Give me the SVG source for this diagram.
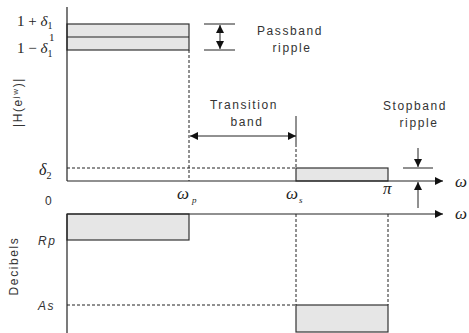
<svg xmlns="http://www.w3.org/2000/svg" width="469" height="333" viewBox="0 0 469 333">
<defs>
<marker id="ah" viewBox="0 0 10 10" refX="10" refY="5" markerWidth="8" markerHeight="8" markerUnits="userSpaceOnUse" orient="auto-start-reverse">
<path d="M0,0 L10,5 L0,10 z" fill="#111"/>
</marker>
<marker id="ah2" viewBox="0 0 10 10" refX="10" refY="5" markerWidth="10" markerHeight="8" markerUnits="userSpaceOnUse" orient="auto-start-reverse">
<path d="M0,0 L10,5 L0,10 z" fill="#111"/>
</marker>
</defs>
<style>
.ax{stroke:#222;stroke-width:1.2;fill:none}
.ln{stroke:#222;stroke-width:1;fill:none}
.ds{stroke:#222;stroke-width:1;fill:none;stroke-dasharray:3,2}
.band{fill:#e6e6e6;stroke:#333;stroke-width:1.2}
.sans{font-family:"Liberation Sans",Arial,sans-serif;fill:#333;font-size:12px;letter-spacing:1.6px}
.ser{font-family:"Liberation Serif","Times New Roman",serif;fill:#222}
.it{font-style:italic}
</style>
<rect width="469" height="333" fill="#fff"/>

<g id="bands">
<rect class="band" x="67" y="24" width="122" height="26"/>
<line class="ln" x1="67" y1="37" x2="189" y2="37"/>
<rect class="band" x="296" y="168" width="92" height="13"/>
<rect class="band" x="67" y="214" width="122" height="26"/>
<rect class="band" x="296" y="305" width="92" height="27"/>
</g>

<g id="axes">
<line class="ax" x1="67" y1="7" x2="67" y2="181"/>
<line class="ax" x1="67" y1="181" x2="443" y2="181" marker-end="url(#ah2)"/>
<line class="ax" x1="67" y1="214" x2="67" y2="333"/>
<line class="ax" x1="67" y1="214" x2="443" y2="214" marker-end="url(#ah2)"/>
</g>

<g id="connectors">
<line class="ds" x1="189" y1="50" x2="189" y2="181"/>
<line class="ds" x1="67" y1="168" x2="296" y2="168"/>
<line class="ln" x1="296" y1="116" x2="296" y2="144"/>
<line class="ds" x1="296" y1="144" x2="296" y2="168"/>
<line class="ds" x1="296" y1="214" x2="296" y2="305"/>
<line class="ds" x1="388" y1="214" x2="388" y2="305"/>
<line class="ds" x1="67" y1="305" x2="296" y2="305"/>
<line class="ln" x1="190" y1="136" x2="296" y2="136" marker-start="url(#ah)" marker-end="url(#ah)"/>
<line class="ln" x1="204" y1="24" x2="235" y2="24"/>
<line class="ln" x1="204" y1="50" x2="235" y2="50"/>
<line class="ln" x1="220" y1="25" x2="220" y2="49" marker-start="url(#ah)" marker-end="url(#ah)"/>
<line class="ln" x1="403" y1="168" x2="433" y2="168"/>
<line class="ln" x1="418" y1="148" x2="418" y2="167" marker-end="url(#ah)"/>
<line class="ln" x1="418" y1="208" x2="418" y2="182" marker-end="url(#ah)"/>
</g>

<g id="labels">
<text class="ser" x="17" y="26" font-size="15">1 + <tspan class="it">δ</tspan><tspan font-size="10" dy="3">1</tspan></text>
<text class="ser" x="49" y="41" font-size="11">1</text>
<text class="ser" x="17" y="53" font-size="15">1 − <tspan class="it">δ</tspan><tspan font-size="10" dy="4">1</tspan></text>
<text class="ser" x="39" y="175" font-size="16"><tspan class="it">δ</tspan><tspan font-size="10" dy="4">2</tspan></text>
<text class="sans" x="45" y="205" font-size="13" letter-spacing="0">0</text>
<text class="ser it" x="177" y="199" font-size="17">ω<tspan font-size="9" dx="3" dy="4">p</tspan></text>
<text class="ser it" x="286" y="199" font-size="17">ω<tspan font-size="9" dx="1" dy="4">s</tspan></text>
<text class="ser it" x="383" y="194" font-size="17">π</text>
<text class="ser it" x="455" y="187" font-size="17">ω</text>
<text class="ser it" x="455" y="219" font-size="17">ω</text>
<text class="sans" x="290" y="35" text-anchor="middle">Passband</text>
<text class="sans" x="292" y="52" text-anchor="middle">ripple</text>
<text class="sans" x="244" y="109" text-anchor="middle">Transition</text>
<text class="sans" x="247" y="126" text-anchor="middle">band</text>
<text class="sans" x="415" y="110" text-anchor="middle">Stopband</text>
<text class="sans" x="419" y="127" text-anchor="middle">ripple</text>
<text class="sans" font-size="12" letter-spacing="0.5" transform="translate(22,102) rotate(-90)" text-anchor="middle">|H(e<tspan font-size="8" dy="-4">jw</tspan><tspan dy="4">)|</tspan></text>
<text class="sans" font-size="13.5" letter-spacing="0.3" transform="translate(18,266) rotate(-90)" text-anchor="middle">Decibels</text>
<text class="sans it" x="38" y="245" font-size="13" letter-spacing="0.5">Rp</text>
<text class="sans it" x="38" y="310" font-size="13" letter-spacing="0.5">As</text>
</g>
</svg>
